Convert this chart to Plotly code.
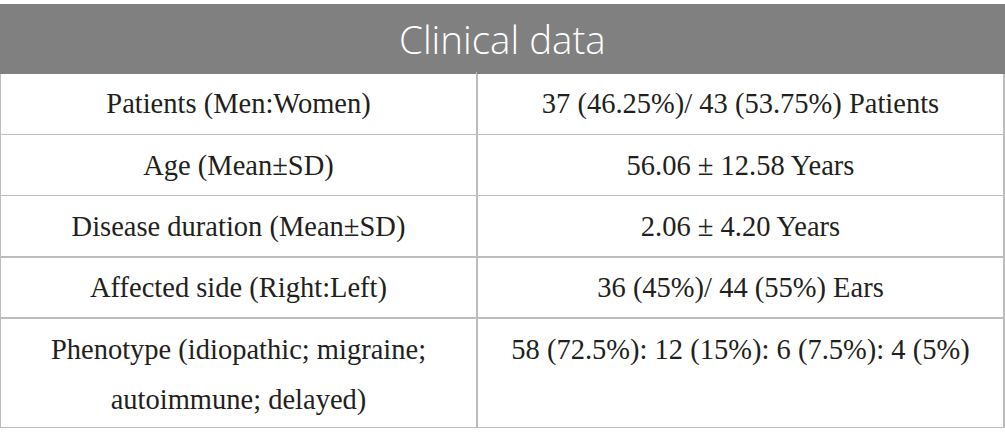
import plotly.graph_objects as go

title = "Clinical data"
labels = [
    "Patients (Men:Women)",
    "Age (Mean±SD)",
    "Disease duration (Mean±SD)",
    "Affected side (Right:Left)",
    "Phenotype (idiopathic; migraine;<br>autoimmune; delayed)",
]
values = [
    "37 (46.25%)/ 43 (53.75%) Patients",
    "56.06 ± 12.58 Years",
    "2.06 ± 4.20 Years",
    "36 (45%)/ 44 (55%) Ears",
    "58 (72.5%): 12 (15%): 6 (7.5%): 4 (5%)",
]

W, H = 1005, 448
TOP = 4            # table top (px)
HEAD_H = 69        # header height
ROW_H = 61.3       # single-line row height
SHIFT = 11         # vertical centring offset of the text layer
GAP = 50           # line spacing of the two-line row
COLW = [477, 527]
XDOM = [0, 1004 / W]
CLEAR = "rgba(0,0,0,0)"
INK = "#231f20"
GRID = "#bdbdbd"
HEAD_FILL = "#7f807f"
BODY_FONT = dict(family="Liberation Serif", size=28.5, color=INK)


def ydom(top_px):
    return [0, 1 - top_px / H]


# split rows into first and second lines
first_l = [s.split("<br>")[0] for s in labels]
first_v = [s.split("<br>")[0] for s in values]
second_l = [s.split("<br>")[1] if "<br>" in s else "" for s in labels]
second_v = [s.split("<br>")[1] if "<br>" in s else "" for s in values]
n_lines = [max(l.count("<br>"), v.count("<br>")) + 1 for l, v in zip(labels, values)]
spacer = ["<br>".join(["\u00a0"] * n) for n in n_lines]

fig = go.Figure()

# grid layer: borders, fills and row heights
fig.add_trace(go.Table(
    domain=dict(x=XDOM, y=ydom(TOP)),
    columnwidth=COLW,
    header=dict(values=["", ""], fill_color=HEAD_FILL,
                line=dict(color=HEAD_FILL, width=1), height=HEAD_H),
    cells=dict(values=[spacer, spacer], fill_color="white",
               line=dict(color=GRID, width=1.5), height=ROW_H,
               font=dict(family="Liberation Serif", size=38.8, color=CLEAR)),
))

# text layer: first lines
fig.add_trace(go.Table(
    domain=dict(x=XDOM, y=ydom(TOP + SHIFT)),
    columnwidth=COLW,
    header=dict(values=["", ""], fill_color=CLEAR,
                line=dict(color=CLEAR, width=0), height=HEAD_H),
    cells=dict(values=[first_l, first_v], fill_color=CLEAR,
               line=dict(color=CLEAR, width=0), height=ROW_H,
               align="center", font=BODY_FONT),
))

# text layer: second lines of multi-line rows
for i, (sl, sv) in enumerate(zip(second_l, second_v)):
    if not (sl or sv):
        continue
    row_top = TOP + HEAD_H + ROW_H * i
    fig.add_trace(go.Table(
        domain=dict(x=XDOM, y=ydom(row_top + SHIFT + GAP)),
        columnwidth=COLW,
        header=dict(values=[sl, sv], fill_color=CLEAR,
                    line=dict(color=CLEAR, width=0), height=ROW_H,
                    align="center", font=BODY_FONT),
        cells=dict(values=[]),
    ))

fig.add_annotation(
    text=title, xref="paper", yref="paper",
    x=XDOM[1] / 2, y=1 - 39 / H, yanchor="middle", xanchor="center",
    showarrow=False,
    font=dict(family="Open Sans", size=38.5, color="white", weight=300),
)

fig.update_layout(
    width=W, height=H,
    margin=dict(l=0, r=0, t=0, b=0),
    paper_bgcolor="white",
)

fig.write_html(
    "out.html",
    config={"displayModeBar": False},
    post_script="document.body.style.margin='0';"
                "Plotly.Plots.resize(document.getElementById('{plot_id}'));",
)
